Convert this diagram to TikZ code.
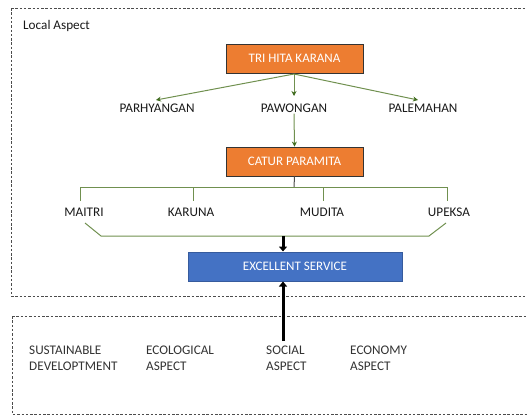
\documentclass[tikz,border=0pt]{standalone}
\usepackage{fontspec}
\setmainfont{Carlito}
\usetikzlibrary{arrows.meta}
\definecolor{orng}{HTML}{ED7D31}
\definecolor{blu}{HTML}{4472C4}
\definecolor{grn}{HTML}{70904F}
\definecolor{dgrn}{HTML}{3F6B1E}
\begin{document}
\begin{tikzpicture}[x=1pt,y=-1pt,
  frame/.style={draw=black!70,dashed,dash pattern=on 2.5pt off 1.8pt,line width=0.6pt},
  obox/.style={draw=black!80,fill=orng,text=white,minimum width=137pt,minimum height=29pt,line width=0.8pt,font=\fontsize{13}{15}\selectfont},
  bbox/.style={draw=blu!80!black,fill=blu,text=white,minimum width=214pt,minimum height=29pt,line width=0.4pt,font=\fontsize{13}{15}\selectfont},
  lbl/.style={font=\fontsize{13.2}{15}\selectfont,text=black!90,inner sep=1pt},
  blbl/.style={font=\fontsize{13.2}{16}\selectfont,text=black!80,align=left,anchor=north west,inner sep=0pt},
  garr/.style={draw=grn,line width=1pt,-{Stealth[length=5pt,width=5pt,color=dgrn]}},
  gline/.style={draw=grn,line width=1pt},
  thick arr/.style={draw=black,line width=3pt,-{Triangle[length=5pt,width=8pt]}}
]
\useasboundingbox (0,0) rectangle (527,416);
\draw[frame] (11,8) -- (527,8) (11,8) -- (11,296) -- (527,296);
\draw[frame] (12,316) -- (527,316) (12,316) -- (12,414) -- (527,414);
\node[lbl,anchor=west] (la) at (22,26) {Local Aspect};

\node[obox] (thk) at (294.5,58.5) {TRI HITA KARANA};
\node[lbl] (parh) at (157,108) {PARHYANGAN};
\node[lbl] (pawo) at (294,108) {PAWONGAN};
\node[lbl] (pale) at (423,108) {PALEMAHAN};
\coordinate (ta) at (294,74);
\coordinate (pa1) at (156,100);
\coordinate (pa2) at (294,96);
\coordinate (pa3) at (418,100);
\draw[garr] (ta) -- (pa1);
\draw[garr] (ta) -- (pa2);
\draw[garr] (ta) -- (pa3);

\node[obox] (cp) at (294.5,161.5) {CATUR PARAMITA};
\draw[garr] (pawo.south) -- (cp.north);

\node[lbl] (mai) at (84,212) {MAITRI};
\node[lbl] (kar) at (191,212) {KARUNA};
\node[lbl] (mud) at (322,212) {MUDITA};
\node[lbl] (upe) at (449,212) {UPEKSA};
\draw[draw=black!70,line width=1pt] (cp.south) -- (294,187);
\draw[gline] (80,201) -- (80,187) -- (447,187) -- (447,201);
\draw[gline] (193,187) -- (193,201);
\draw[gline] (323,187) -- (323,201);
\draw[gline] (85,223) -- (101,236) -- (429,236) -- (446,223);

\node[bbox] (es) at (295,266.5) {EXCELLENT SERVICE};
\coordinate (br) at (283,236);
\coordinate (bt) at (283,341);
\draw[thick arr] (br) -- (283,251.5);
\draw[thick arr] (bt) -- (283,281.5);

\node[blbl] (sd) at (29,346) {SUSTAINABLE\\DEVELOPTMENT};
\node[blbl] (eco) at (146,346) {ECOLOGICAL\\ASPECT};
\node[blbl] (soc) at (266,346) {SOCIAL\\ASPECT};
\node[blbl] (ecn) at (350,346) {ECONOMY\\ASPECT};
\end{tikzpicture}
\end{document}
